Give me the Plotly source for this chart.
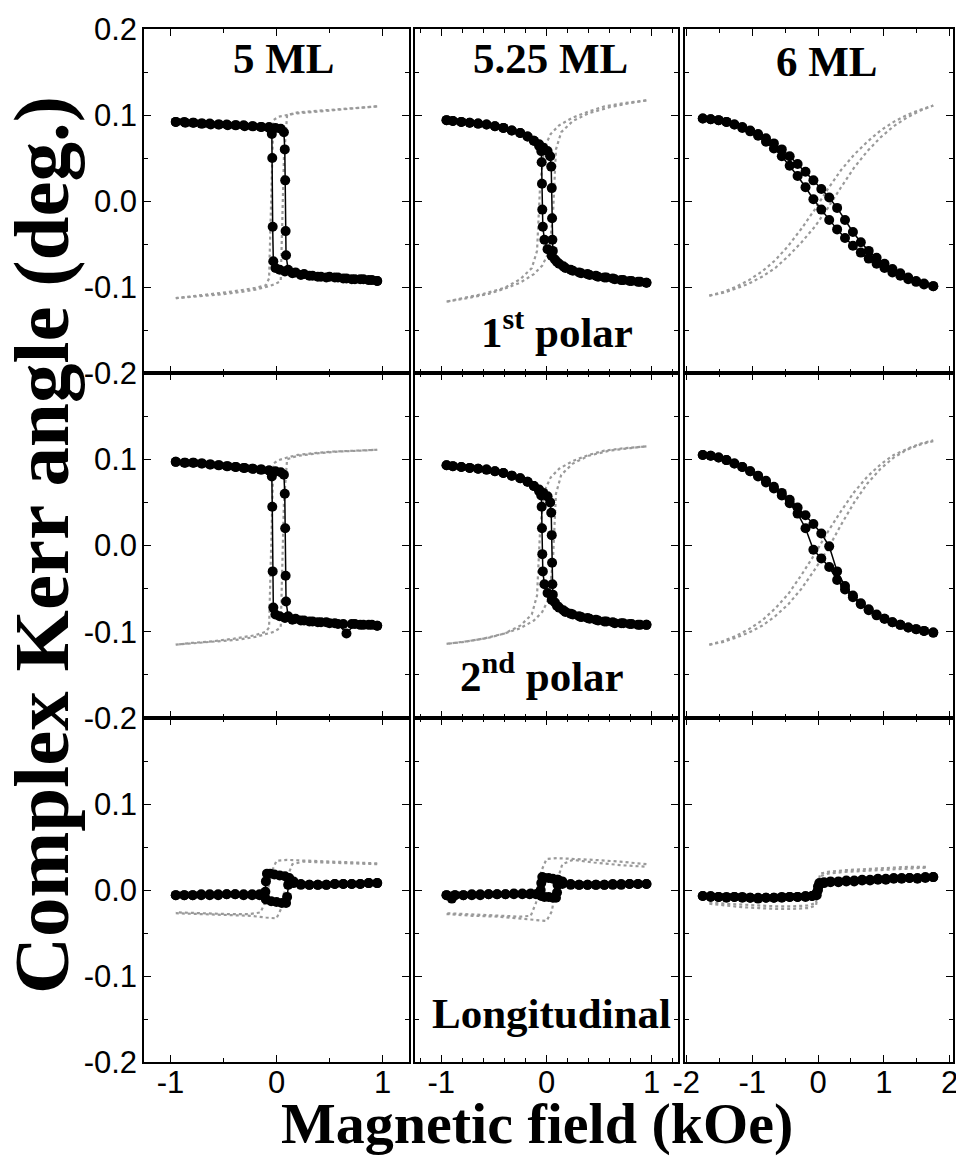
import plotly.graph_objects as go

# ================= DATA =================
# ---- tick labels ----
x_tickvals_narrow = [-1, 0, 1]
x_ticklabels_narrow = ["-1", "0", "1"]
x_tickvals_wide = [-2, -1, 0, 1, 2]
x_ticklabels_wide = ["-2", "-1", "0", "1", "2"]
y_tickvals_top = [-0.2, -0.1, 0.0, 0.1, 0.2]
y_ticklabels_top = ["-0.2", "-0.1", "0.0", "0.1", "0.2"]
y_tickvals_low = [-0.2, -0.1, 0.0, 0.1]
y_ticklabels_low = ["-0.2", "-0.1", "0.0", "0.1"]

thickness_labels = ["5 ML", "5.25 ML", "6 ML"]
geometry_labels = ["1<sup>st</sup> polar", "2<sup>nd</sup> polar", "Longitudinal"]

# ---- 5 ML, polar rows: field (kOe) ----
H1_dn = [0.95,0.87,0.79,0.71,0.63,0.55,0.47,0.39,0.31,0.23,0.15,0.08,0.03,-0.01,-0.03,
         -0.036,-0.04,-0.044,-0.05,-0.07,-0.14,-0.22,-0.30,-0.38,-0.46,-0.54,-0.62,-0.70,-0.78,-0.86,-0.95]
H1_up = [-0.95,-0.87,-0.79,-0.71,-0.63,-0.55,-0.47,-0.39,-0.31,-0.23,-0.15,-0.07,-0.01,0.04,0.07,
         0.078,0.082,0.086,0.09,0.11,0.18,0.26,0.34,0.42,0.50,0.58,0.66,0.74,0.82,0.90,0.95]
G1_up = [-0.95,-0.75,-0.55,-0.35,-0.2,-0.1,-0.02,0.04,0.07,0.1,0.2,0.4,0.6,0.8,0.95]
G1_dn = [0.95,0.75,0.55,0.35,0.2,0.1,0.02,-0.03,-0.05,-0.07,-0.1,-0.2,-0.4,-0.6,-0.8,-0.95]

k5_p1_dn = [-0.093,-0.092,-0.091,-0.091,-0.090,-0.089,-0.089,-0.088,-0.087,-0.086,-0.084,-0.082,-0.080,-0.078,-0.070,
            -0.030,0.050,0.078,0.083,0.085,0.086,0.087,0.087,0.088,0.088,0.089,0.089,0.090,0.091,0.091,0.092]
k5_p1_up = [0.092,0.092,0.091,0.090,0.090,0.089,0.089,0.088,0.088,0.087,0.086,0.086,0.085,0.084,0.080,
            0.060,0.024,-0.035,-0.063,-0.080,-0.083,-0.085,-0.087,-0.088,-0.088,-0.089,-0.090,-0.091,-0.091,-0.092,-0.093]
e5_p1_up = [-0.113,-0.111,-0.109,-0.106,-0.103,-0.100,-0.097,-0.093,0.050,0.100,0.103,0.105,0.107,0.109,0.110]
e5_p1_dn = [0.110,0.108,0.106,0.104,0.102,0.100,0.098,0.094,0.000,-0.090,-0.098,-0.101,-0.105,-0.108,-0.111,-0.113]

k5_p2_dn = [-0.093,-0.092,-0.092,-0.091,-0.091,-0.090,-0.089,-0.089,-0.088,-0.087,-0.086,-0.084,-0.082,-0.080,-0.072,
            -0.030,0.045,0.080,0.085,0.087,0.088,0.089,0.090,0.091,0.092,0.093,0.094,0.095,0.096,0.096,0.097]
k5_p2_up = [0.097,0.096,0.096,0.095,0.094,0.093,0.092,0.091,0.090,0.089,0.088,0.087,0.086,0.085,0.082,
            0.060,0.020,-0.035,-0.065,-0.082,-0.085,-0.087,-0.088,-0.089,-0.090,-0.091,-0.102,-0.091,-0.092,-0.092,-0.093]
e5_p2_up = [-0.115,-0.113,-0.111,-0.109,-0.106,-0.103,-0.100,-0.095,0.050,0.100,0.104,0.107,0.109,0.110,0.111]
e5_p2_dn = [0.111,0.110,0.109,0.107,0.105,0.102,0.099,0.095,0.000,-0.095,-0.100,-0.104,-0.108,-0.111,-0.113,-0.115]

# ---- 5.25 ML, polar rows ----
H2_dn = [0.95,0.87,0.79,0.71,0.63,0.55,0.47,0.39,0.31,0.23,0.16,0.10,0.05,0.01,-0.02,
         -0.035,-0.04,-0.043,-0.046,-0.05,-0.07,-0.12,-0.18,-0.25,-0.33,-0.41,-0.49,-0.57,-0.65,-0.73,-0.81,-0.89,-0.95]
H2_up = [-0.95,-0.89,-0.81,-0.73,-0.65,-0.57,-0.49,-0.41,-0.33,-0.25,-0.18,-0.12,-0.07,-0.03,0.01,
         0.035,0.045,0.05,0.053,0.056,0.06,0.08,0.12,0.18,0.25,0.33,0.41,0.49,0.57,0.65,0.73,0.81,0.89,0.95]
G2_up = [-0.95,-0.75,-0.55,-0.4,-0.25,-0.12,-0.04,0.02,0.06,0.09,0.14,0.25,0.4,0.6,0.8,0.95]
G2_dn = [0.95,0.75,0.55,0.4,0.25,0.12,0.04,-0.02,-0.06,-0.09,-0.14,-0.25,-0.4,-0.6,-0.8,-0.95]

k525_p1_dn = [-0.095,-0.094,-0.093,-0.092,-0.090,-0.089,-0.087,-0.085,-0.083,-0.080,-0.076,-0.071,-0.064,-0.056,-0.045,
              -0.030,-0.010,0.020,0.045,0.058,0.064,0.070,0.075,0.079,0.082,0.085,0.087,0.089,0.090,0.091,0.092,0.093,0.094]
k525_p1_up = [0.094,0.093,0.092,0.091,0.090,0.089,0.087,0.085,0.082,0.079,0.075,0.070,0.066,0.062,0.058,
              0.052,0.040,0.015,-0.020,-0.045,-0.058,-0.068,-0.073,-0.078,-0.081,-0.084,-0.086,-0.088,-0.089,-0.091,-0.092,-0.093,-0.094,-0.095]
e525_p1_up = [-0.117,-0.113,-0.108,-0.102,-0.095,-0.085,-0.075,-0.060,-0.020,0.060,0.080,0.093,0.102,0.109,0.114,0.117]
e525_p1_dn = [0.117,0.114,0.110,0.104,0.097,0.088,0.078,0.062,0.020,-0.058,-0.078,-0.091,-0.101,-0.108,-0.113,-0.117]

k525_p2_dn = [-0.092,-0.092,-0.091,-0.090,-0.089,-0.088,-0.086,-0.084,-0.082,-0.079,-0.075,-0.070,-0.063,-0.055,-0.045,
              -0.030,-0.010,0.020,0.045,0.058,0.063,0.069,0.074,0.078,0.081,0.084,0.086,0.088,0.089,0.090,0.091,0.092,0.093]
k525_p2_up = [0.093,0.092,0.091,0.090,0.089,0.088,0.086,0.084,0.081,0.078,0.074,0.069,0.065,0.061,0.057,
              0.050,0.038,0.012,-0.020,-0.045,-0.057,-0.066,-0.072,-0.077,-0.080,-0.083,-0.085,-0.087,-0.088,-0.090,-0.090,-0.091,-0.092,-0.092]
e525_p2_up = [-0.114,-0.111,-0.107,-0.102,-0.096,-0.087,-0.077,-0.062,-0.020,0.060,0.082,0.095,0.104,0.110,0.113,0.115]
e525_p2_dn = [0.115,0.113,0.110,0.105,0.098,0.089,0.079,0.063,0.020,-0.058,-0.080,-0.093,-0.102,-0.108,-0.112,-0.114]

# ---- 6 ML, polar rows ----
H3 = [-1.75,-1.63,-1.51,-1.39,-1.27,-1.15,-1.03,-0.91,-0.79,-0.67,-0.55,-0.43,-0.31,-0.19,-0.07,
      0.05,0.17,0.29,0.41,0.53,0.65,0.77,0.89,1.01,1.13,1.25,1.37,1.49,1.61,1.75]
G3 = [-1.65,-1.45,-1.25,-1.05,-0.85,-0.65,-0.45,-0.25,-0.05,0.15,0.35,0.55,0.75,0.95,1.15,1.35,1.55,1.75]

k6_p1_up = [0.096,0.095,0.094,0.092,0.089,0.086,0.082,0.078,0.073,0.067,0.060,0.052,0.043,0.034,0.024,
            0.014,0.004,-0.008,-0.022,-0.036,-0.048,-0.058,-0.066,-0.073,-0.079,-0.084,-0.089,-0.093,-0.096,-0.099]
k6_p1_dn = [0.096,0.095,0.094,0.092,0.089,0.085,0.081,0.076,0.069,0.061,0.052,0.041,0.029,0.016,0.002,
            -0.010,-0.022,-0.033,-0.043,-0.052,-0.060,-0.067,-0.073,-0.078,-0.083,-0.087,-0.091,-0.094,-0.097,-0.099]
e6_p1_a = [-0.110,-0.107,-0.102,-0.096,-0.088,-0.078,-0.064,-0.048,-0.030,-0.008,0.016,0.039,0.058,0.074,0.087,0.097,0.105,0.111]
e6_p1_b = [-0.110,-0.106,-0.100,-0.092,-0.082,-0.069,-0.052,-0.032,-0.010,0.014,0.036,0.054,0.069,0.082,0.092,0.100,0.106,0.111]

k6_p2_up = [0.105,0.104,0.102,0.099,0.095,0.091,0.086,0.081,0.075,0.068,0.061,0.053,0.044,0.035,0.025,
            0.014,-0.001,-0.030,-0.047,-0.058,-0.067,-0.074,-0.080,-0.085,-0.089,-0.092,-0.095,-0.097,-0.099,-0.101]
k6_p2_dn = [0.105,0.104,0.102,0.099,0.095,0.091,0.086,0.080,0.073,0.066,0.058,0.049,0.037,0.020,-0.005,
            -0.015,-0.025,-0.040,-0.051,-0.060,-0.068,-0.075,-0.081,-0.085,-0.089,-0.092,-0.095,-0.097,-0.099,-0.101]
e6_p2_a = [-0.115,-0.112,-0.107,-0.101,-0.093,-0.082,-0.068,-0.050,-0.028,-0.004,0.024,0.050,0.072,0.089,0.102,0.111,0.117,0.121]
e6_p2_b = [-0.115,-0.111,-0.105,-0.097,-0.087,-0.073,-0.056,-0.034,-0.010,0.016,0.040,0.062,0.080,0.094,0.105,0.112,0.118,0.122]

# ---- Longitudinal row ----
HL1_up = [-0.95,-0.87,-0.79,-0.71,-0.63,-0.55,-0.47,-0.39,-0.31,-0.23,-0.16,-0.1,-0.05,0.0,0.05,
          0.09,0.10,0.11,0.12,0.16,0.23,0.31,0.39,0.47,0.55,0.63,0.71,0.79,0.87,0.95]
HL1_dn = [0.95,0.87,0.79,0.71,0.63,0.55,0.47,0.39,0.31,0.23,0.16,0.12,0.08,0.03,-0.02,
          -0.06,-0.09,-0.1,-0.105,-0.11,-0.16,-0.23,-0.31,-0.39,-0.47,-0.55,-0.63,-0.71,-0.79,-0.87,-0.95]
HL2_up = [-0.95,-0.87,-0.79,-0.71,-0.63,-0.55,-0.47,-0.39,-0.31,-0.23,-0.15,-0.08,-0.05,-0.02,0.02,
          0.06,0.09,0.10,0.105,0.11,0.15,0.23,0.31,0.39,0.47,0.55,0.63,0.71,0.79,0.87,0.95]
HL2_dn = [0.95,0.87,0.79,0.71,0.63,0.55,0.47,0.39,0.31,0.23,0.15,0.1,0.06,0.02,-0.02,
          -0.04,-0.05,-0.055,-0.06,-0.1,-0.16,-0.23,-0.31,-0.39,-0.47,-0.55,-0.63,-0.71,-0.79,-0.87,-0.9,-0.95]
GL_up = [-0.95,-0.7,-0.45,-0.25,-0.1,0.0,0.05,0.1,0.15,0.25,0.45,0.7,0.95]
GL_dn = [0.95,0.7,0.45,0.25,0.1,0.0,-0.05,-0.1,-0.15,-0.25,-0.45,-0.7,-0.95]
HL3 = [-1.75,-1.63,-1.51,-1.39,-1.27,-1.15,-1.03,-0.91,-0.79,-0.67,-0.55,-0.43,-0.31,-0.19,-0.09,-0.02,0.0,
       0.02,0.09,0.19,0.31,0.43,0.55,0.67,0.79,0.91,1.03,1.15,1.27,1.39,1.51,1.63,1.75]
GL3 = [-1.65,-1.4,-1.15,-0.9,-0.65,-0.4,-0.15,-0.03,0.03,0.15,0.4,0.65,0.9,1.15,1.4,1.65]

k5_l_up = [-0.006,-0.006,-0.006,-0.005,-0.005,-0.005,-0.005,-0.005,-0.005,-0.005,-0.005,-0.011,-0.013,-0.014,-0.015,
           -0.015,-0.008,0.006,0.012,0.010,0.007,0.006,0.006,0.006,0.007,0.007,0.007,0.007,0.008,0.008]
k5_l_dn = [0.008,0.008,0.007,0.007,0.007,0.007,0.006,0.006,0.006,0.006,0.008,0.014,0.016,0.017,0.018,
           0.019,0.019,0.010,-0.002,-0.008,-0.006,-0.006,-0.006,-0.005,-0.005,-0.006,-0.006,-0.006,-0.006,-0.006,-0.006]
e5_l_up = [-0.027,-0.028,-0.029,-0.030,-0.032,-0.033,-0.020,0.015,0.030,0.033,0.032,0.031,0.030]
e5_l_dn = [0.031,0.032,0.033,0.034,0.035,0.034,0.020,-0.012,-0.026,-0.028,-0.028,-0.027,-0.026]

k525_l_up = [-0.006,-0.006,-0.006,-0.005,-0.005,-0.005,-0.005,-0.005,-0.004,-0.004,-0.004,-0.004,-0.007,-0.008,-0.008,
             -0.009,-0.009,-0.003,0.006,0.012,0.010,0.007,0.006,0.006,0.006,0.006,0.007,0.007,0.007,0.007,0.007]
k525_l_dn = [0.007,0.007,0.007,0.006,0.006,0.006,0.006,0.006,0.006,0.006,0.007,0.012,0.013,0.014,0.014,
             0.015,0.008,0.000,-0.004,-0.005,-0.005,-0.005,-0.005,-0.005,-0.005,-0.005,-0.006,-0.006,-0.006,-0.006,-0.010,-0.006]
e525_l_up = [-0.028,-0.030,-0.031,-0.033,-0.035,-0.036,-0.025,0.010,0.030,0.035,0.032,0.029,0.027]
e525_l_dn = [0.030,0.033,0.035,0.036,0.037,0.036,0.022,-0.015,-0.030,-0.031,-0.030,-0.029,-0.027]

k6_l_a = [-0.007,-0.007,-0.008,-0.008,-0.008,-0.008,-0.009,-0.009,-0.009,-0.009,-0.008,-0.008,-0.008,-0.008,-0.007,-0.006,0.000,
          0.006,0.008,0.009,0.009,0.010,0.010,0.011,0.011,0.012,0.012,0.013,0.013,0.014,0.013,0.014,0.015]
k6_l_b = [-0.007,-0.008,-0.008,-0.009,-0.008,-0.009,-0.009,-0.010,-0.009,-0.009,-0.009,-0.008,-0.008,-0.007,-0.007,-0.003,0.004,
          0.008,0.009,0.010,0.010,0.011,0.011,0.012,0.012,0.013,0.013,0.014,0.014,0.014,0.014,0.015,0.015]
e6_l_a = [-0.016,-0.018,-0.020,-0.021,-0.022,-0.022,-0.021,-0.018,0.016,0.019,0.021,0.022,0.023,0.024,0.025,0.026]
e6_l_b = [-0.014,-0.016,-0.017,-0.018,-0.019,-0.019,-0.018,-0.015,0.019,0.021,0.023,0.024,0.025,0.026,0.027,0.027]

# panel contents: (gray curves, black curves) per (row, col)
panels = {
    (0, 0): ([(G1_up, e5_p1_up), (G1_dn, e5_p1_dn)], [(H1_dn, k5_p1_dn), (H1_up, k5_p1_up)]),
    (0, 1): ([(G2_up, e525_p1_up), (G2_dn, e525_p1_dn)], [(H2_dn, k525_p1_dn), (H2_up, k525_p1_up)]),
    (0, 2): ([(G3, e6_p1_a), (G3, e6_p1_b)], [(H3, k6_p1_up), (H3, k6_p1_dn)]),
    (1, 0): ([(G1_up, e5_p2_up), (G1_dn, e5_p2_dn)], [(H1_dn, k5_p2_dn), (H1_up, k5_p2_up)]),
    (1, 1): ([(G2_up, e525_p2_up), (G2_dn, e525_p2_dn)], [(H2_dn, k525_p2_dn), (H2_up, k525_p2_up)]),
    (1, 2): ([(G3, e6_p2_a), (G3, e6_p2_b)], [(H3, k6_p2_up), (H3, k6_p2_dn)]),
    (2, 0): ([(GL_up, e5_l_up), (GL_dn, e5_l_dn)], [(HL1_up, k5_l_up), (HL1_dn, k5_l_dn)]),
    (2, 1): ([(GL_up, e525_l_up), (GL_dn, e525_l_dn)], [(HL2_up, k525_l_up), (HL2_dn, k525_l_dn)]),
    (2, 2): ([(GL3, e6_l_a), (GL3, e6_l_b)], [(HL3, k6_l_a), (HL3, k6_l_b)]),
}

# ================= FIGURE =================
# the page body has an 8 px margin, so the figure starts 8 px in from the window corner
OFF = 8
FW, FH = 964 - OFF, 1169 - 2 * OFF


def px_x(px):
    return (px - OFF) / FW


def px_y(py):
    return 1 - (py - OFF) / FH


col_px = [(144, 409), (415, 678), (685, 953)]
row_px = [(29, 373), (373, 718), (718, 1062)]
x_ranges = [[-1.25, 1.25], [-1.25, 1.25], [-2.02, 2.05]]
x_minor = [0.5, 0.2, 0.5]

tick_font = dict(family="Arial, 'Liberation Sans', sans-serif", size=31, color="black")
serif = "'Liberation Serif', 'Times New Roman', serif"

fig = go.Figure()
layout = dict(width=FW, height=FH, autosize=False, margin=dict(l=0, r=0, t=0, b=0, pad=0),
              paper_bgcolor="white", plot_bgcolor="white", showlegend=False)

for r in range(3):
    for c in range(3):
        k = r * 3 + c
        s = "" if k == 0 else str(k + 1)
        gray, black = panels[(r, c)]
        for xs, ys in gray:
            fig.add_trace(go.Scatter(x=xs, y=ys, mode="lines", xaxis="x" + s, yaxis="y" + s,
                                     line=dict(color="#9a9a9a", width=2.2, dash="dot"),
                                     hoverinfo="skip", showlegend=False))
        for xs, ys in black:
            fig.add_trace(go.Scatter(x=xs, y=ys, mode="lines+markers", xaxis="x" + s, yaxis="y" + s,
                                     line=dict(color="black", width=1.5),
                                     marker=dict(color="black", size=10),
                                     hoverinfo="skip", showlegend=False))
        if c < 2:
            xtv, xtt = x_tickvals_narrow, x_ticklabels_narrow
        else:
            xtv, xtt = x_tickvals_wide, x_ticklabels_wide
        if r == 0:
            ytv, ytt = y_tickvals_top, y_ticklabels_top
        else:
            ytv, ytt = y_tickvals_low, y_ticklabels_low
        common = dict(showline=True, linecolor="black", linewidth=1.5, mirror="allticks",
                      ticks="inside", ticklen=7, tickwidth=1.2, tickcolor="black",
                      showgrid=False, zeroline=False, tickfont=tick_font, tickmode="array",
                      automargin=False, ticklabeloverflow="allow")
        layout["xaxis" + s] = dict(common, domain=[px_x(col_px[c][0]), px_x(col_px[c][1])],
                                   anchor="y" + s, range=x_ranges[c],
                                   tickvals=xtv, ticktext=xtt, showticklabels=(r == 2),
                                   ticklabelstandoff=-8,
                                   minor=dict(ticks="inside", ticklen=4, dtick=x_minor[c], tick0=0,
                                              tickcolor="black", tickwidth=1))
        layout["yaxis" + s] = dict(common, domain=[px_y(row_px[r][1]), px_y(row_px[r][0])],
                                   anchor="x" + s, range=[-0.2, 0.2],
                                   tickvals=ytv, ticktext=ytt, showticklabels=(c == 0),
                                   ticklabelstandoff=-1,
                                   minor=dict(ticks="inside", ticklen=4, dtick=0.05, tick0=0,
                                              tickcolor="black", tickwidth=1))

ann = []
label_pos = [(284, 59), (550, 59), (827, 61)]
for txt, (px, py) in zip(thickness_labels, label_pos):
    ann.append(dict(text="<b>%s</b>" % txt, x=px_x(px), y=px_y(py), xref="paper", yref="paper",
                    xanchor="center", yanchor="middle", showarrow=False,
                    font=dict(family=serif, size=43, color="black")))
geo_pos = [(557, 329), (542, 673), (551, 1013)]
for txt, (px, py) in zip(geometry_labels, geo_pos):
    ann.append(dict(text="<b>%s</b>" % txt, x=px_x(px), y=px_y(py), xref="paper", yref="paper",
                    xanchor="center", yanchor="middle", showarrow=False,
                    font=dict(family=serif, size=43, color="black")))
ann.append(dict(text="<b>Complex Kerr angle (deg.)</b>", x=px_x(41), y=px_y(545),
                xref="paper", yref="paper", xanchor="center", yanchor="middle", textangle=-90,
                showarrow=False, font=dict(family=serif, size=79, color="black")))
ann.append(dict(text="<b>Magnetic field (kOe)</b>", x=px_x(537), y=px_y(1123),
                xref="paper", yref="paper", xanchor="center", yanchor="middle",
                showarrow=False, font=dict(family=serif, size=58, color="black")))
layout["annotations"] = ann

fig.update_layout(**layout)
fig.write_html("out.html")
